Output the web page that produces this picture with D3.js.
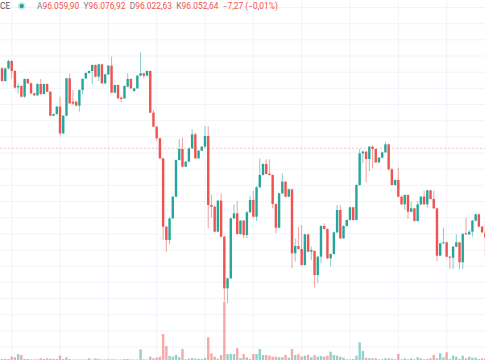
<!DOCTYPE html>
<html><head><meta charset="utf-8">
<script src="https://cdn.jsdelivr.net/npm/d3@7"></script>
<style>html,body{margin:0;padding:0;background:#fff;overflow:hidden}</style>
</head><body><svg id="c" width="485" height="360"></svg>
<script>
// ---- data (1-minute candles, left to right) ----
const open=[
96306.5,96306.5,96287.5,96306.5,96317.5,96302.5,96278,96280,96264,96290.5,
96284,96269,96266,96283,96268,96283,96271.5,96235.5,96238,96249,
96209,96235.5,96291.5,96256.5,96256.5,96250.5,96274,96291.5,96299.5,96302.5,
96311.5,96294,96312.5,96284,96297.5,96310.5,96270,96281.5,96262.5,96261.5,
96279,96290.5,96272.5,96276.5,96295.5,96299,96295.5,96302.5,96240,96219,
96201.5,96171.5,96069,96049,96081.5,96114,96169,96185.5,96159,96166.5,
96186.5,96207.5,96171.5,96183,96189,96205,96101.5,96099,96061.5,96108,
96054,95976.5,95991.5,96081.5,96089,96058,96078,96056.5,96090.5,96109,
96084,96128,96146.5,96163,96148.5,96146.5,96103,96067.5,96119,96136.5,
96114,96125,96029,96040,96035.5,96011.5,96057.5,96031.5,96032.5,95996.5,
96024,96070,96065.5,96021.5,96028,96060.5,96094,96051.5,96070,96079,
96098,96079,96131.5,96179,96181.5,96170.5,96189,96185.5,96165.5,96172.5,
96180.5,96192.5,96155,96131.5,96139,96114,96102.5,96116.5,96091.5,96096.5,
96077.5,96102.5,96114,96102.5,96123.5,96110.5,96096.5,96025.5,96044,96045.5,
96024,96022.5,96039,96045.5,96015.5,96059,96057.5,96061.5,96078,96087.5,
96069,96059.90];
const high=[
96308.5,96308.5,96307.5,96319.5,96319.5,96304,96284,96281.5,96291.5,96291.5,
96285.5,96270.5,96284,96290.5,96284,96284,96272.5,96239,96250,96264,
96236.5,96292.5,96299,96274,96257.5,96275,96291.5,96300.5,96303.5,96312.5,
96312.5,96313.5,96313.5,96298.5,96311.5,96324,96282.5,96282.5,96264,96281,
96299,96291.5,96277.5,96296.5,96330.5,96300,96303.5,96303.5,96244,96220,
96202.5,96172.5,96070,96082.5,96115,96170,96200.5,96202.5,96167.5,96187.5,
96215.5,96210.5,96184,96190,96220,96220,96117.5,96100,96109,96119,
96055,95992.5,96082.5,96102.5,96107.5,96079,96079,96092.5,96115,96122.5,
96130,96171.5,96164,96170,96170,96147.5,96104,96120,96149,96137.5,
96126.5,96126,96051.5,96069,96071.5,96058.5,96058.5,96039,96033.5,96025,
96071,96074,96066.5,96029,96061.5,96101.5,96101.5,96071,96080,96099,
96099,96132.5,96185.5,96184,96182.5,96190,96191.5,96186.5,96173.5,96181.5,
96196.5,96193.5,96157.5,96140,96157.5,96115,96117.5,96117.5,96106.5,96097.5,
96107.5,96115,96123,96124.5,96124.5,96123,96097.5,96045,96067.5,96046.5,
96025,96040,96057.5,96046.5,96059,96082.5,96064,96079,96088.5,96088.5,
96070,96076.92];
const low=[
96286.5,96286.5,96286.5,96304.5,96291.5,96276.5,96269,96262.5,96262.5,96283,
96267.5,96264.5,96265,96267,96267,96270.5,96234.5,96234.5,96237,96205.5,
96207.5,96234.5,96253,96251.5,96249.5,96241.5,96267.5,96290.5,96298.5,96282.5,
96293,96287.5,96283,96283,96296.5,96269,96269,96260.5,96255.5,96260.5,
96278,96275.5,96271.5,96275.5,96294.5,96291.5,96294.5,96239,96218,96198,
96170.5,96049,96031.5,96042.5,96080.5,96113,96168,96158,96158,96165.5,
96185.5,96170.5,96170.5,96182,96188,96066.5,96082.5,96060.5,96060.5,96053,
95956.5,95954,95990.5,96080.5,96057,96057,96051.5,96051.5,96089.5,96083,
96077.5,96127,96145.5,96147,96145.5,96096.5,96059,96066.5,96118,96113,
96113,96006.5,96016.5,96034.5,96010.5,96010.5,96030.5,96019,95977.5,95985,
96014,96064.5,96020.5,96009,96027,96059.5,96050.5,96050.5,96069,96078,
96078,96078,96130.5,96164,96135,96152.5,96156.5,96164.5,96164.5,96171.5,
96179.5,96153,96130.5,96130.5,96113,96101.5,96094,96080.5,96090.5,96076.5,
96076.5,96101.5,96101.5,96097.5,96109.5,96095.5,96017.5,96024.5,96043,96023,
96005.5,96005.5,96038,96005.5,96005.5,96056.5,96056.5,96054,96077,96068,
96059.5,96022.63];
const close=[
96288.5,96287.5,96306.5,96317.5,96302.5,96277.5,96280,96264,96290.5,96284,
96269,96266,96283,96268,96283,96271.5,96235.5,96238,96249,96209,
96235.5,96291.5,96254,96253.5,96250.5,96274,96290.5,96299.5,96302.5,96311.5,
96294,96312.5,96284,96297.5,96310.5,96270,96281.5,96261.5,96260.5,96280,
96290.5,96276.5,96276.5,96295.5,96299,96295.5,96302.5,96240,96219,96201.5,
96171.5,96069,96049,96081.5,96114,96169,96185.5,96159,96166.5,96186.5,
96207.5,96171.5,96183,96189,96205,96101.5,96099,96061.5,96108,96054,
95976.5,95991.5,96081.5,96089,96058,96078,96056.5,96090.5,96109,96084,
96128,96146.5,96163,96148,96146.5,96103,96067.5,96119,96136.5,96114,
96125,96029,96040,96035.5,96011.5,96057.5,96031.5,96034,95996.5,96024,
96070,96065.5,96021.5,96028,96060.5,96094,96051.5,96070,96079,96098,
96079,96131.5,96179,96181.5,96170.5,96189,96185.5,96165.5,96172.5,96180.5,
96192.5,96155,96131.5,96139,96114,96102.5,96116.5,96091.5,96096.5,96077.5,
96102.5,96114,96102.5,96123.5,96110.5,96096.5,96025.5,96044,96045.5,96024,
96022.5,96039,96045.5,96015.5,96058,96057.5,96061.5,96078,96087.5,96069,
96060.5,96052.64];
const volume=[
1,1,1,1,3.3,2.7,6,5,1,1,
0.7,0.7,0.7,1.7,1,1.7,1.3,1,1,4.3,
1,2.7,1,0.5,0.5,0.5,0.5,0.5,1.7,0.5,
1.7,1,0.5,0.5,0.7,0.7,0.7,0.5,0.5,1,
1,0.5,0.5,0.5,10.7,0.7,0.5,3.3,1.7,2.3,
3.3,26,14,4,3.3,5,2.7,11,0.7,1.3,
2,1.3,1.3,1,2,22.7,6.7,3.3,1.3,5,
58,6,6,6,11.7,2,6,2.7,1,6,
6,11,5,5,4.3,3.3,3.3,2.7,2.7,5,
2.3,11,5,5.7,3.3,4.3,5.3,2.7,5,3.3,
4,3.3,4.3,8.3,5,4.3,3.3,2.3,0.7,0.7,
1,4.3,17.7,9,2.3,1.7,1.7,1.7,0.7,0.7,
1.7,1.7,1.3,0.7,6,0.7,1.7,0.7,1.7,0.7,
2.7,1.7,0.7,1,1.7,5,1.7,6.7,2.7,7.7,
1,4.3,3.3,1,4.3,1.7,3.3,2.3,2.3,1,
1.7,1.7];
const prevClose = 96186.5;
const symbolText = "CE";
const legendLabels = ["A","Y","D","K"];
const legendValues = ["96.059,90","96.076,92","96.022,63","96.052,64"];
const legendChange = "\u22127,27 (\u22120,01%)";

// ---- drawing ----
const W=485,H=360;
const UP="#26a69a", DOWN="#ef5350";
const svg=d3.select("#c");
const n=open.length;
const idx=d3.range(n);
const x=d3.scaleLinear().domain([0,n-1]).range([-1.19,485.3]);
const y=d3.scaleLinear().domain([95869,96341.5]).range([360,45]);
const yv=d3.scaleLinear().domain([0,60]).range([360,300]);

const grid=svg.append("g").attr("stroke","#f0f3fa").attr("stroke-width",1);
grid.selectAll("line.v").data(d3.range(4,n,15)).join("line").attr("class","v")
  .attr("x1",d=>x(d)).attr("x2",d=>x(d)).attr("y1",0).attr("y2",H);
grid.selectAll("line.h").data(d3.range(96325+24.25*3,95860,-24.25)).join("line").attr("class","h")
  .attr("x1",0).attr("x2",W).attr("y1",d=>y(d)).attr("y2",d=>y(d));

// volume
svg.append("g").selectAll("rect").data(idx).join("rect")
  .attr("x",i=>x(i)-1.2).attr("width",2.4)
  .attr("y",i=>yv(volume[i])).attr("height",i=>yv(0)-yv(volume[i]))
  .attr("fill",i=>close[i]>=open[i]?"rgba(38,166,154,0.5)":"rgba(239,83,80,0.5)");

// previous close line
svg.append("line").attr("x1",0).attr("x2",W).attr("y1",y(prevClose)).attr("y2",y(prevClose))
  .attr("stroke","rgba(239,83,80,0.35)").attr("stroke-width",1).attr("stroke-dasharray","2,2");

// wicks
svg.append("g").selectAll("line").data(idx).join("line")
  .attr("x1",i=>x(i)).attr("x2",i=>x(i))
  .attr("y1",i=>y(high[i])).attr("y2",i=>y(low[i]))
  .attr("stroke",i=>close[i]>=open[i]?"rgba(38,166,154,0.55)":"rgba(239,83,80,0.55)")
  .attr("stroke-width",1);
// bodies
svg.append("g").selectAll("rect").data(idx).join("rect")
  .attr("x",i=>x(i)-1.2).attr("width",2.4)
  .attr("y",i=>y(Math.max(open[i],close[i])))
  .attr("height",i=>Math.max(1,Math.abs(y(open[i])-y(close[i]))))
  .attr("fill",i=>close[i]>=open[i]?UP:DOWN);

// legend
const lg=svg.append("g").attr("font-family","Roboto, 'Noto Sans', sans-serif").attr("font-size",8.4);
lg.append("text").attr("x",0).attr("y",9).attr("fill","#50535e").text(symbolText);
lg.append("circle").attr("cx",21.7).attr("cy",6).attr("r",4).attr("fill","rgba(38,166,154,0.2)");
lg.append("circle").attr("cx",21.7).attr("cy",6).attr("r",2.2).attr("fill",UP);
const t=lg.append("text").attr("x",37).attr("y",9);
legendLabels.forEach((l,i)=>{
  t.append("tspan").attr("fill","#787b86").attr("dx",i?4.3:0).text(l);
  t.append("tspan").attr("fill",DOWN).text(legendValues[i]);
});
t.append("tspan").attr("fill",DOWN).attr("dx",4.3).text(legendChange);
</script></body></html>
